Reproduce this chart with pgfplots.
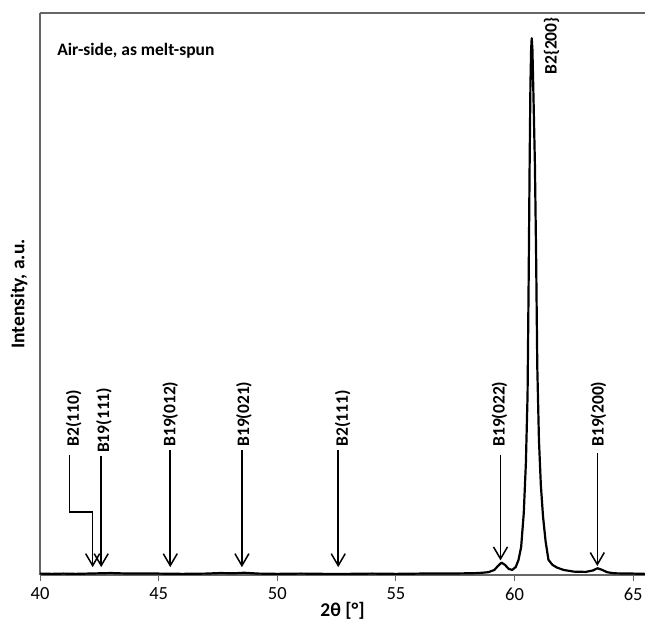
\documentclass[border=0pt]{standalone}
\usepackage{pgfplots}
\pgfplotsset{compat=1.18}
\usepackage{fontspec}
\setmainfont{Carlito}
\usetikzlibrary{arrows.meta,calc}
\definecolor{axgray}{HTML}{666666}
\begin{document}
\begin{tikzpicture}[x=1bp,y=1bp]
\begin{axis}[
  name=ax,
  scale only axis,
  width=605bp, height=562bp,
  xmin=40, xmax=65.5, ymin=0, ymax=100,
  axis x line*=box, axis y line*=left,
  axis line style={axgray, line width=1.2bp},
  xtick={40,45,50,55,60,65},
  ytick=\empty,
  xtick pos=bottom,
  tick align=outside,
  major tick length=6bp,
  tick style={axgray, line width=1bp},
  /pgf/number format/assume math mode=true,
  ticklabel style={font=\fontsize{18.5bp}{21bp}\selectfont},
  xticklabel style={yshift=-3bp},
  xlabel={\textbf{2θ [°]}},
  ylabel={\textbf{Intensity, a.u.}},
  label style={font=\fontsize{19.5bp}{22bp}\selectfont},
  xlabel style={yshift=5bp},
  ylabel style={yshift=3bp},
  clip=false,
]
\addplot[black, line width=2.2bp, line join=round] coordinates {
(40,0.25) (40.5,0.2) (41,0.25) (41.5,0.2) (42,0.25) (42.5,0.3) (43,0.35) (43.3,0.3)
(44,0.25) (45,0.25) (46,0.2) (47,0.25) (47.6,0.35) (48.2,0.3) (48.6,0.4) (49.2,0.25)
(50,0.2) (51,0.25) (52,0.2) (53,0.2) (54,0.25) (55,0.2) (56,0.25) (57,0.25) (58,0.3)
(58.5,0.35) (58.9,0.5) (59.15,0.9) (59.3,1.6) (59.45,2.2) (59.6,1.8) (59.75,1.1)
(59.9,0.9) (60.05,1.4) (60.17,2.7) (60.28,5) (60.39,11) (60.48,20) (60.55,32)
(60.595,52) (60.635,72) (60.67,87) (60.70,93.5) (60.725,95.5) (60.755,93.5) (60.80,85)
(60.86,73) (60.91,57) (60.96,37) (61.03,24) (61.11,16) (61.20,10.5) (61.31,6)
(61.43,2.7) (61.6,1.8) (61.8,1.3) (62.07,0.9) (62.5,0.6) (63.0,0.55) (63.3,0.8)
(63.5,1.2) (63.7,0.9) (63.9,0.5) (64.2,0.3) (65,0.25) (65.5,0.2)
};
% annotations
\tikzset{lab/.style={rotate=90, anchor=west, inner sep=0pt, font=\fontsize{17.5bp}{20bp}\selectfont\bfseries},
  arr/.style={black, line width=1.6bp, -{Straight Barb[length=12bp,width=14bp,line width=1.5bp]}}}
\node[lab] at (axis cs:40.72,92.35) [rotate=-90, anchor=base west] {Air-side, as melt-spun};
\draw[arr] (axis cs:41.24,21.4) -- (axis cs:41.24,11.2) -- (axis cs:42.22,11.2) -- (axis cs:42.22,1.4);
\draw[arr] (axis cs:42.58,21.2) -- (axis cs:42.58,1.4);
\draw[arr] (axis cs:45.49,22.2) -- (axis cs:45.49,1.4);
\draw[arr] (axis cs:48.51,22.2) -- (axis cs:48.51,1.4);
\draw[arr] (axis cs:52.57,22.2) -- (axis cs:52.57,1.4);
\draw[arr] (axis cs:59.41,21.4) -- (axis cs:59.41,2.6);
\draw[arr] (axis cs:63.49,21.7) -- (axis cs:63.49,1.6);
\node[lab] at (axis cs:41.42,22.8) {B2(110)};
\node[lab] at (axis cs:42.70,21.7) {B19(111)};
\node[lab] at (axis cs:45.49,22.8) {B19(012)};
\node[lab] at (axis cs:48.60,22.8) {B19(021)};
\node[lab] at (axis cs:52.76,22.8) {B2(111)};
\node[lab] at (axis cs:59.37,22.8) {B19(022)};
\node[lab] at (axis cs:63.54,22.8) {B19(200)};
\node[lab] at (axis cs:61.56,89.0) {B2\{200\}};
\end{axis}
\pgfresetboundingbox
\path ($(ax.south west)+(-40bp,-47bp)$) rectangle ($(ax.north east)+(0bp,13bp)$);
\end{tikzpicture}
\end{document}
